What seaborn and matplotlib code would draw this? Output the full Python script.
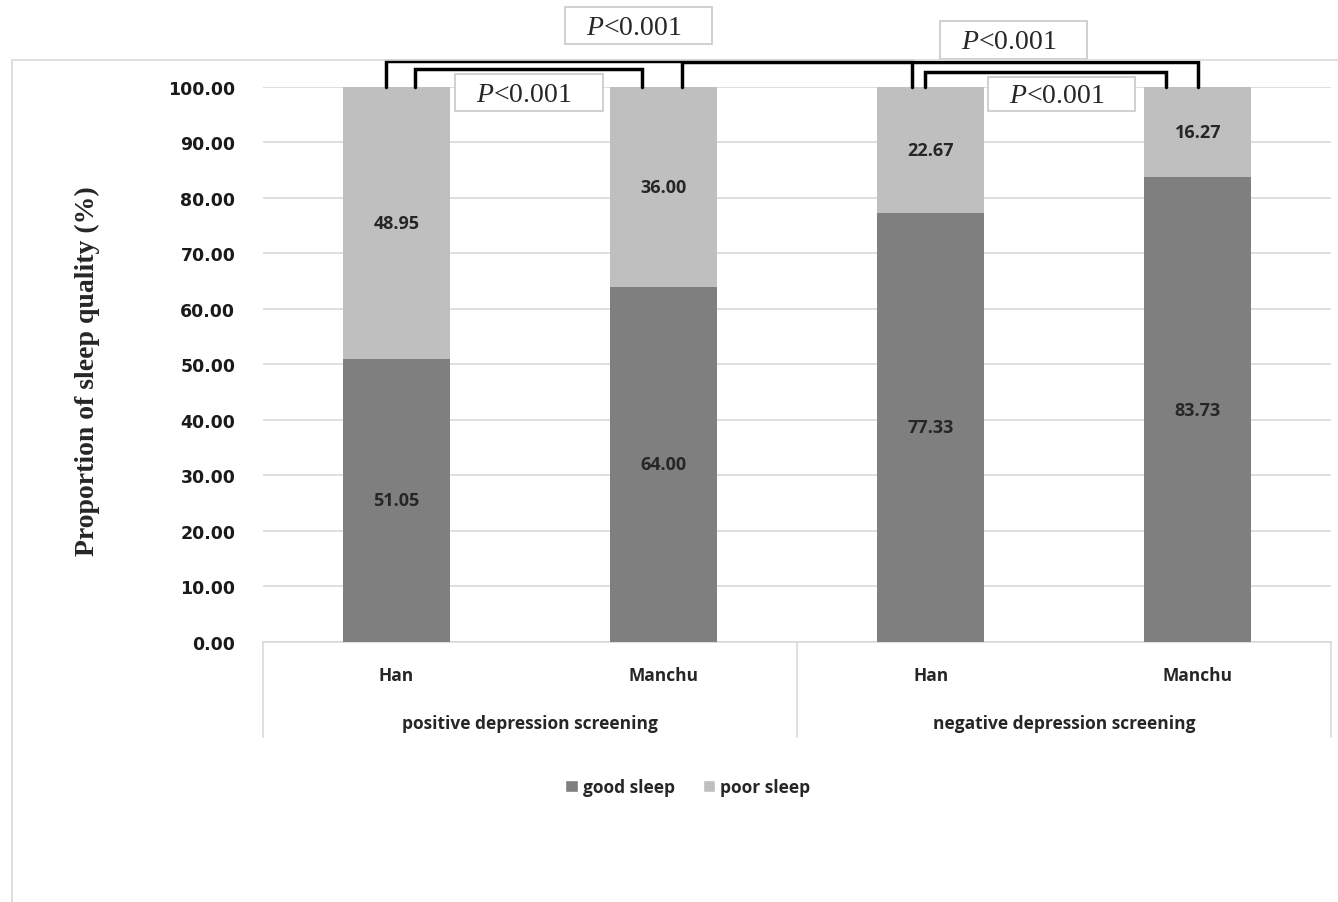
import matplotlib
matplotlib.use("Agg")
import matplotlib.pyplot as plt
from matplotlib.patches import Patch, Rectangle
import seaborn as sns
import pandas as pd

# data
groups = ["positive depression screening", "positive depression screening",
          "negative depression screening", "negative depression screening"]
ethnicity = ["Han", "Manchu", "Han", "Manchu"]
good_sleep = [51.05, 64.00, 77.33, 83.73]
poor_sleep = [48.95, 36.00, 22.67, 16.27]
group_names = ["positive depression screening", "negative depression screening"]
p_label = "<0.001"

good_color = "#7f7f7f"
poor_color = "#bfbfbf"
text_font = "Open Sans"

sns.set_style("white")
plt.rcParams["mathtext.fontset"] = "custom"
plt.rcParams["mathtext.it"] = "Liberation Serif:italic"
plt.rcParams["mathtext.rm"] = "Liberation Serif"

df = pd.DataFrame({
    "key": [f"{g}|{e}" for g, e in zip(groups, ethnicity)],
    "good": good_sleep,
    "poor": poor_sleep,
})
df["total"] = df["good"] + df["poor"]

fig = plt.figure(figsize=(13.38, 9.03), dpi=100)
ax = fig.add_axes([0.1966, 0.288, 0.7984, 0.6146])

# stacked bars: total first (poor colour) then good on top
sns.barplot(data=df, x="key", y="total", color=poor_color, width=0.4,
            saturation=1, linewidth=0, ax=ax, zorder=2)
sns.barplot(data=df, x="key", y="good", color=good_color, width=0.4,
            saturation=1, linewidth=0, ax=ax, zorder=3)

ax.set_xlim(-0.5, 3.5)
ax.set_ylim(0, 100)
ax.set_yticks(range(0, 101, 10))
ax.set_yticklabels([f"{v:.2f}" for v in range(0, 101, 10)],
                   fontfamily="DejaVu Sans", fontweight="bold", fontsize=12.5,
                   color="#1a1a1a")
ax.tick_params(axis="y", length=0, pad=20)
ax.yaxis.grid(True, color="#d9d9d9", lw=1.2)
ax.set_axisbelow(True)
for s in ["top", "right", "left"]:
    ax.spines[s].set_visible(False)
ax.spines["bottom"].set_color("#d9d9d9")
ax.spines["bottom"].set_linewidth(1.2)

ax.set_xticks(range(4))
ax.set_xticklabels([])
ax.tick_params(axis="x", length=0)
ax.set_xlabel("")
ax.set_ylabel("Proportion of sleep quality (%)", fontfamily="Liberation Serif",
              fontweight="bold", fontsize=20)
ax.yaxis.set_label_coords(-0.153, 0.49)

# value labels in each segment
for i, (g, p) in enumerate(zip(good_sleep, poor_sleep)):
    ax.text(i, g / 2, f"{g:.2f}", ha="center", va="center", fontsize=13,
            fontfamily=text_font, fontweight="bold", color="#262626", zorder=5)
    ax.text(i, g + p / 2, f"{p:.2f}", ha="center", va="center", fontsize=13,
            fontfamily=text_font, fontweight="bold", color="#262626", zorder=5)

# two-level category axis
tr = ax.get_xaxis_transform()
for i, e in enumerate(ethnicity):
    ax.text(i, -0.06, e, transform=tr, ha="center", va="center", fontsize=12.5,
            fontfamily=text_font, fontweight="bold", color="#262626")
for j, name in enumerate(group_names):
    ax.text(2 * j + 0.5, -0.146, name, transform=tr, ha="center", va="center",
            fontsize=12.5, fontfamily=text_font, fontweight="bold", color="#262626")
for xv in [-0.5, 1.5, 3.5]:
    ax.plot([xv, xv], [0, -0.171], transform=tr, color="#d9d9d9", lw=1.2,
            clip_on=False)

# significance brackets
brackets = [
    (-0.04, 1.93, 104.7),
    (0.07, 0.92, 103.2),
    (1.07, 3.00, 104.5),
    (1.98, 2.88, 102.7),
]
for x0, x1, yb in brackets:
    ax.plot([x0, x0, x1, x1], [100, yb, yb, 100], color="black", lw=2.5,
            clip_on=False, zorder=6, solid_joinstyle="miter")

boxes = [
    (0.631, 1.182, 107.7, 114.4),
    (0.219, 0.773, 95.7, 102.3),
    (2.036, 2.586, 105.0, 111.9),
    (2.215, 2.766, 95.7, 101.8),
]
for x0, x1, y0, y1 in boxes:
    ax.add_patch(Rectangle((x0, y0), x1 - x0, y1 - y0, facecolor="white",
                           edgecolor="#c8c8c8", lw=1.2, clip_on=False, zorder=7))
    ax.text((x0 + x1) / 2 - 0.02, (y0 + y1) / 2 - 0.3, r"$\mathit{P}$" + p_label,
            ha="center", va="center", fontsize=20, fontfamily="Liberation Serif",
            zorder=8, clip_on=False)

# legend
handles = [Patch(facecolor=good_color, label="good sleep"),
           Patch(facecolor=poor_color, label="poor sleep")]
leg = fig.legend(handles=handles, loc="center", bbox_to_anchor=(0.514, 0.127),
                 ncol=2, frameon=False, handlelength=0.7, handleheight=0.7,
                 handletextpad=0.3, columnspacing=1.6,
                 prop={"family": text_font, "weight": "bold", "size": 12.5})

# outer chart frame
fig.patches.append(Rectangle((0.009, -0.01), 1.0, 0.9425, transform=fig.transFigure,
                             fill=False, edgecolor="#d9d9d9", lw=1.2))

fig.savefig("out.png", dpi=100)
